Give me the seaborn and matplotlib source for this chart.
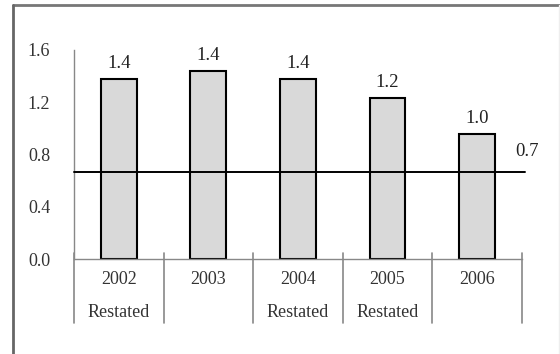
import numpy as np
import pandas as pd
import matplotlib
matplotlib.use("Agg")
import matplotlib.pyplot as plt
import matplotlib.transforms as mtransforms
from matplotlib.lines import Line2D
import seaborn as sns

# --- data ---
years = ["2002", "2003", "2004", "2005", "2006"]
notes = ["Restated", "", "Restated", "Restated", ""]
values = [1.38, 1.44, 1.38, 1.23, 0.96]
value_labels = ["1.4", "1.4", "1.4", "1.2", "1.0"]
benchmark = 0.666
benchmark_label = "0.7"
yticks = [0.0, 0.4, 0.8, 1.2, 1.6]

sns.set_style("white")
plt.rcParams["font.family"] = ["Liberation Serif", "DejaVu Serif"]

df = pd.DataFrame({"year": years, "value": values})

fig = plt.figure(figsize=(5.6, 3.54), dpi=100)
ax = fig.add_axes([0.132, 0.268, 0.8, 0.591])

sns.barplot(data=df, x="year", y="value", ax=ax, color="#d9d9d9",
            edgecolor="black", linewidth=1.5, width=0.4, saturation=1)

ax.set_xlim(-0.5, len(years) - 0.5)
ax.set_ylim(0, 1.6)
ax.set_yticks(yticks)
ax.set_yticklabels([f"{t:.1f}" for t in yticks], fontsize=13, color="#333333")
ax.set_xticks([])
ax.set_xlabel("")
ax.set_ylabel("")
ax.tick_params(axis="y", direction="out", length=5, width=0.8, color="#888888", pad=12)

for side in ["top", "right"]:
    ax.spines[side].set_visible(False)
for side in ["left", "bottom"]:
    ax.spines[side].set_color("#888888")
    ax.spines[side].set_linewidth(1.0)

# value labels above bars
for i, (v, lab) in enumerate(zip(values, value_labels)):
    ax.annotate(lab, (i, v), xytext=(0, 5), textcoords="offset points",
                ha="center", va="bottom", fontsize=13.5, color="#222222")

# benchmark line, running slightly past the last category
ax.plot([-0.5, len(years) - 0.47], [benchmark, benchmark], color="black",
        linewidth=1.4, clip_on=False, zorder=5)
ax.text(4.43, benchmark + 0.09, benchmark_label, ha="left", va="bottom",
        fontsize=13.5, color="#222222")

# category table below the axis
trans = mtransforms.blended_transform_factory(ax.transData, ax.transAxes)
for k in range(len(years) + 1):
    ax.add_line(Line2D([k - 0.5, k - 0.5], [0.03, -0.306], transform=trans,
                       color="#888888", linewidth=1.2, clip_on=False))
for i, (yr, nt) in enumerate(zip(years, notes)):
    ax.text(i, -0.096, yr, transform=trans, ha="center", va="center",
            fontsize=13, color="#333333")
    if nt:
        ax.text(i, -0.254, nt, transform=trans, ha="center", va="center",
                fontsize=13, color="#333333")

# outer frame (top and left visible, right faint)
fig.add_artist(Line2D([13 / 560, 1.0], [1 - 5 / 354, 1 - 5 / 354],
                      transform=fig.transFigure, color="#777777", linewidth=2))
fig.add_artist(Line2D([13 / 560, 13 / 560], [0, 1 - 5 / 354],
                      transform=fig.transFigure, color="#666666", linewidth=2))
fig.add_artist(Line2D([559 / 560, 559 / 560], [0, 1 - 5 / 354],
                      transform=fig.transFigure, color="#eeeeee", linewidth=1))

fig.savefig("out.png", dpi=100)
